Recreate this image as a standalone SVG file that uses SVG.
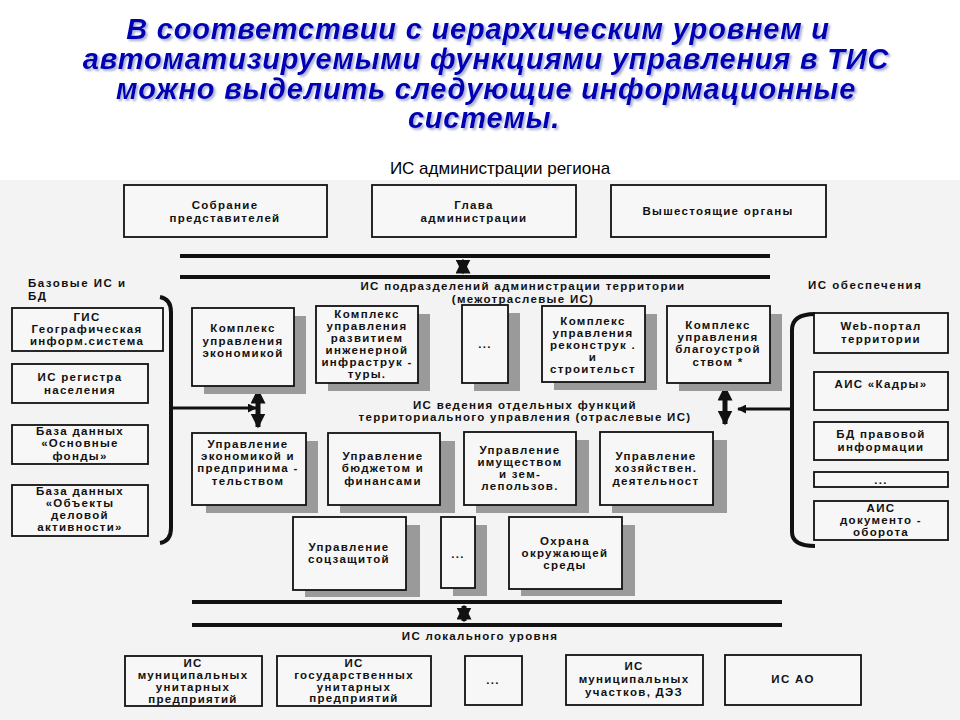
<svg xmlns="http://www.w3.org/2000/svg" width="960" height="720" viewBox="0 0 960 720">
<defs>
<style>
.t{font-family:"Liberation Sans",Arial,sans-serif;font-weight:bold;font-style:italic;font-size:29px;fill:#0000b4;text-anchor:middle;letter-spacing:0.8px}
.b{fill:#f7f7f7;stroke:#111;stroke-width:1.8}
.sh{fill:#9a9a9a}
.x{font-family:"Liberation Sans",Arial,sans-serif;font-weight:bold;font-size:11.5px;fill:#111;text-anchor:middle;letter-spacing:1.3px}
.l{font-family:"Liberation Sans",Arial,sans-serif;font-weight:bold;font-size:11.5px;fill:#111;letter-spacing:1.5px}
.bar{stroke:#111;stroke-width:4}
.br{fill:none;stroke:#111;stroke-width:4}
.ar{stroke:#111;stroke-width:5}
</style>
<filter id="ds" x="-5%" y="-20%" width="110%" height="140%"><feDropShadow dx="2" dy="2" stdDeviation="1.2" flood-color="#6f78b8" flood-opacity="0.6"/></filter>
<marker id="ah" viewBox="0 0 10 10" refX="9" refY="5" markerWidth="3" markerHeight="3" orient="auto-start-reverse"><path d="M0,0 L10,5 L0,10 z" fill="#111"/></marker>
</defs>
<rect x="0" y="0" width="960" height="720" fill="#ffffff"/>
<rect x="0" y="180" width="960" height="540" fill="#f3f3f3"/>
<g id="title" filter="url(#ds)">
<text class="t" x="478" y="39">В соответствии с иерархическим уровнем и</text>
<text class="t" x="486" y="69">автоматизируемыми функциями управления в ТИС</text>
<text class="t" x="486" y="99">можно выделить следующие информационные</text>
<text class="t" x="484" y="128">системы.</text>
</g>
<text x="500" y="174" font-family="Liberation Sans,Arial,sans-serif" font-size="17" text-anchor="middle" fill="#000">ИС администрации региона</text>
<g id="connectors">
<line class="bar" x1="180" y1="256" x2="770" y2="256"/>
<line class="bar" x1="180" y1="277" x2="770" y2="277"/>
<line class="ar" x1="463" y1="260" x2="463" y2="273" marker-start="url(#ah)" marker-end="url(#ah)"/>
<line class="bar" x1="192" y1="602" x2="782" y2="602"/>
<line class="bar" x1="192" y1="625" x2="782" y2="625"/>
<line class="ar" x1="464" y1="606" x2="464" y2="621" marker-start="url(#ah)" marker-end="url(#ah)"/>
<path class="br" d="M160,297 Q171,299 171,312 L171,528 Q171,541 160,543"/>
<line x1="171" y1="408" x2="256" y2="408" stroke="#111" stroke-width="3" marker-end="url(#ah)"/>
<line class="ar" x1="258" y1="390" x2="258" y2="427" marker-start="url(#ah)" marker-end="url(#ah)"/>
<path class="br" d="M815,314 Q792,314 792,330 L792,532 Q792,546 815,546"/>
<line x1="792" y1="409" x2="738" y2="409" stroke="#111" stroke-width="3" marker-end="url(#ah)"/>
<line class="ar" x1="725" y1="387" x2="725" y2="424" marker-start="url(#ah)" marker-end="url(#ah)"/>
</g>
<g id="labels">
<text class="x" x="523" y="290">ИС подразделений администрации территории</text>
<text class="x" x="523" y="303">(межотраслевые ИС)</text>
<text class="l" x="28" y="287">Базовые ИС и</text>
<text class="l" x="28" y="300">БД</text>
<text class="l" x="808" y="289">ИС обеспечения</text>
<text class="x" x="525" y="409">ИС ведения отдельных функций</text>
<text class="x" x="525" y="421">территориального управления (отраслевые ИС)</text>
<text class="x" x="480" y="640">ИС локального уровня</text>
</g>
<g id="top1"><rect class="b" x="124" y="185" width="203" height="52"/><text class="x" x="225" y="209">Собрание</text><text class="x" x="225" y="222">представителей</text></g>
<g id="top2"><rect class="b" x="372" y="185" width="204" height="52"/><text class="x" x="474" y="209">Глава</text><text class="x" x="474" y="222">администрации</text></g>
<g id="top3"><rect class="b" x="611" y="185" width="215" height="52"/><text class="x" x="718" y="215">Вышестоящие органы</text></g>
<g id="l1"><rect class="b" x="12" y="308" width="151" height="43"/><text class="x" x="87" y="321">ГИС</text><text class="x" x="87" y="333">Географическая</text><text class="x" x="87" y="345">информ.система</text></g>
<g id="l2"><rect class="b" x="12" y="364" width="136" height="39"/><text class="x" x="80" y="381">ИС регистра</text><text class="x" x="80" y="394">населения</text></g>
<g id="l3"><rect class="b" x="12" y="425" width="136" height="39"/><text class="x" x="80" y="435">База данных</text><text class="x" x="80" y="447">«Основные</text><text class="x" x="80" y="460">фонды»</text></g>
<g id="l4"><rect class="b" x="12" y="485" width="136" height="51"/><text class="x" x="80" y="495">База данных</text><text class="x" x="80" y="507">«Объекты</text><text class="x" x="80" y="519">деловой</text><text class="x" x="80" y="531">активности»</text></g>
<g id="r1"><rect class="b" x="814" y="313" width="134" height="40"/><text class="x" x="881" y="330">Web-портал</text><text class="x" x="881" y="343">территории</text></g>
<g id="r2"><rect class="b" x="814" y="372" width="134" height="38"/><text class="x" x="881" y="388">АИС «Кадры»</text></g>
<g id="r3"><rect class="b" x="814" y="422" width="134" height="38"/><text class="x" x="881" y="438">БД правовой</text><text class="x" x="881" y="451">информации</text></g>
<g id="r4"><rect class="b" x="814" y="472" width="134" height="15"/><text class="x" x="881" y="484">...</text></g>
<g id="r5"><rect class="b" x="814" y="501" width="134" height="39"/><text class="x" x="881" y="512">АИС</text><text class="x" x="881" y="524">документо -</text><text class="x" x="881" y="536">оборота</text></g>
<g id="a1"><rect class="sh" x="204" y="316" width="102" height="78"/><rect class="b" x="192" y="308" width="102" height="78"/><text class="x" x="243" y="332">Комплекс</text><text class="x" x="243" y="345">управления</text><text class="x" x="243" y="357">экономикой</text></g>
<g id="a2"><rect class="sh" x="328" y="314" width="102" height="77"/><rect class="b" x="316" y="306" width="102" height="77"/><text class="x" x="367" y="318">Комплекс</text><text class="x" x="367" y="330">управления</text><text class="x" x="367" y="342">развитием</text><text class="x" x="367" y="354">инженерной</text><text class="x" x="367" y="366">инфраструк -</text><text class="x" x="367" y="378">туры.</text></g>
<g id="a3"><rect class="sh" x="474" y="313" width="46" height="78"/><rect class="b" x="462" y="305" width="46" height="78"/><text class="x" x="485" y="348">...</text></g>
<g id="a4"><rect class="sh" x="554" y="314" width="103" height="76"/><rect class="b" x="542" y="306" width="103" height="76"/><text class="x" x="593" y="325">Комплекс</text><text class="x" x="593" y="337">управления</text><text class="x" x="593" y="349">реконструк .</text><text class="x" x="593" y="361">и</text><text class="x" x="593" y="373">строительст</text></g>
<g id="a5"><rect class="sh" x="679" y="314" width="103" height="77"/><rect class="b" x="667" y="306" width="103" height="77"/><text class="x" x="718" y="329">Комплекс</text><text class="x" x="718" y="341">управления</text><text class="x" x="718" y="353">благоустрой</text><text class="x" x="718" y="366">ством *</text></g>
<g id="b1"><rect class="sh" x="206" y="441" width="112" height="72"/><rect class="b" x="192" y="433" width="114" height="72"/><text class="x" x="248" y="448">Управление</text><text class="x" x="248" y="460">экономикой и</text><text class="x" x="248" y="472">предпринима -</text><text class="x" x="248" y="485">тельством</text></g>
<g id="b2"><rect class="sh" x="340" y="441" width="115" height="72"/><rect class="b" x="328" y="433" width="112" height="72"/><text class="x" x="383" y="460">Управление</text><text class="x" x="383" y="472">бюджетом и</text><text class="x" x="383" y="485">финансами</text></g>
<g id="b3"><rect class="sh" x="476" y="440" width="113" height="73"/><rect class="b" x="464" y="432" width="112" height="73"/><text class="x" x="520" y="454">Управление</text><text class="x" x="520" y="466">имуществом</text><text class="x" x="520" y="478">и зем-</text><text class="x" x="520" y="490">лепользов.</text></g>
<g id="b4"><rect class="sh" x="612" y="440" width="115" height="73"/><rect class="b" x="600" y="432" width="113" height="73"/><text class="x" x="656" y="460">Управление</text><text class="x" x="656" y="472">хозяйствен.</text><text class="x" x="656" y="485">деятельност</text></g>
<g id="c1"><rect class="sh" x="305" y="525" width="115" height="72"/><rect class="b" x="293" y="517" width="113" height="73"/><text class="x" x="349" y="551">Управление</text><text class="x" x="349" y="563">соцзащитой</text></g>
<g id="c2"><rect class="sh" x="453" y="525" width="34" height="71"/><rect class="b" x="441" y="517" width="34" height="71"/><text class="x" x="458" y="558">...</text></g>
<g id="c3"><rect class="sh" x="521" y="525" width="114" height="71"/><rect class="b" x="509" y="517" width="113" height="72"/><text class="x" x="565" y="545">Охрана</text><text class="x" x="565" y="557">окружающей</text><text class="x" x="565" y="569">среды</text></g>
<g id="d1"><rect class="b" x="125" y="656" width="137" height="50"/><text class="x" x="193" y="667">ИС</text><text class="x" x="193" y="679">муниципальных</text><text class="x" x="193" y="691">унитарных</text><text class="x" x="193" y="703">предприятий</text></g>
<g id="d2"><rect class="b" x="277" y="656" width="154" height="50"/><text class="x" x="354" y="667">ИС</text><text class="x" x="354" y="679">государственных</text><text class="x" x="354" y="691">унитарных</text><text class="x" x="354" y="702">предприятий</text></g>
<g id="d3"><rect class="b" x="465" y="656" width="57" height="49"/><text class="x" x="493" y="684">...</text></g>
<g id="d4"><rect class="b" x="566" y="655" width="137" height="50"/><text class="x" x="634" y="670">ИС</text><text class="x" x="634" y="683">муниципальных</text><text class="x" x="634" y="696">участков, ДЭЗ</text></g>
<g id="d5"><rect class="b" x="725" y="655" width="136" height="50"/><text class="x" x="793" y="683">ИС АО</text></g>
</svg>
